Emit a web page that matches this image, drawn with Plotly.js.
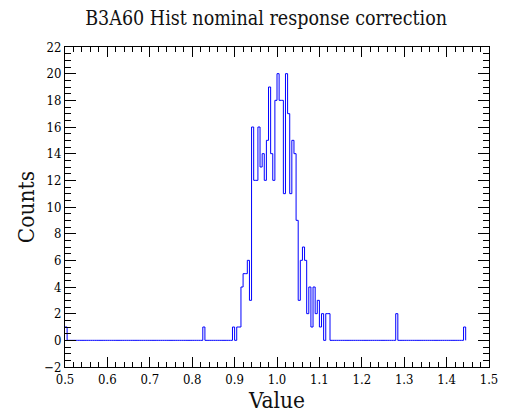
<!DOCTYPE html>
<html>
<head>
<meta charset="utf-8">
<script src="https://cdn.plot.ly/plotly-3.0.1.min.js"></script>
<style>
html,body{margin:0;padding:0;background:#fff;}
#chart{width:508px;height:414px;}
</style>
</head>
<body>
<div id="chart"></div>
<script>
// Histogram binning (axis definition)
const binMin = 0.5;
const binWidth = 0.005;

// Counts per bin (bins 0 .. 188, i.e. 0.500 .. 1.445)
const counts = [
  1, 0, 0, 0, 0, 0, 0, 0, 0, 0,   // 0.500 - 0.550
  0, 0, 0, 0, 0, 0, 0, 0, 0, 0,   // 0.550 - 0.600
  0, 0, 0, 0, 0, 0, 0, 0, 0, 0,   // 0.600 - 0.650
  0, 0, 0, 0, 0, 0, 0, 0, 0, 0,   // 0.650 - 0.700
  0, 0, 0, 0, 0, 0, 0, 0, 0, 0,   // 0.700 - 0.750
  0, 0, 0, 0, 0, 0, 0, 0, 0, 0,   // 0.750 - 0.800
  0, 0, 0, 0, 0, 1, 0, 0, 0, 0,   // 0.800 - 0.850
  0, 0, 0, 0, 0, 0, 0, 0, 0, 1,   // 0.850 - 0.900
  0, 1, 1, 4, 5, 5, 6, 3, 16, 12, // 0.900 - 0.950
  12, 16, 13, 14, 12, 15, 19, 14, 12, 18, // 0.950 - 1.000
  20, 18, 18, 11, 20, 17, 11, 15, 14, 9,  // 1.000 - 1.050
  3, 6, 7, 6, 2, 4, 1, 4, 2, 3,   // 1.050 - 1.100
  1, 2, 0, 2, 2, 0, 0, 0, 0, 0,   // 1.100 - 1.150
  0, 0, 0, 0, 0, 0, 0, 0, 0, 0,   // 1.150 - 1.200
  0, 0, 0, 0, 0, 0, 0, 0, 0, 0,   // 1.200 - 1.250
  0, 0, 0, 0, 0, 0, 2, 0, 0, 0,   // 1.250 - 1.300
  0, 0, 0, 0, 0, 0, 0, 0, 0, 0,   // 1.300 - 1.350
  0, 0, 0, 0, 0, 0, 0, 0, 0, 0,   // 1.350 - 1.400
  0, 0, 0, 0, 0, 0, 0, 0, 1       // 1.400 - 1.445
];

const xTickVals = [0.5, 0.6, 0.7, 0.8, 0.9, 1.0, 1.1, 1.2, 1.3, 1.4, 1.5];
const xTickText = ["0.5", "0.6", "0.7", "0.8", "0.9", "1.0", "1.1", "1.2", "1.3", "1.4", "1.5"];
const yTickVals = [-2, 0, 2, 4, 6, 8, 10, 12, 14, 16, 18, 20, 22];

// Step outline: each bin's left edge with its count, then closing edge at 0
const xs = [], ys = [];
for (let i = 0; i < counts.length; i++) {
  xs.push(binMin + i * binWidth);
  ys.push(counts[i]);
}
xs.push(binMin + counts.length * binWidth);
ys.push(0);

const font = "DejaVu Serif Condensed, DejaVu Serif, serif";

const trace = {
  type: "scatter",
  mode: "lines",
  x: xs,
  y: ys,
  line: {shape: "hv", color: "#0000ff", width: 1},
  hoverinfo: "x+y"
};

const layout = {
  width: 508,
  height: 414,
  margin: {l: 65, r: 19, t: 47, b: 47},
  paper_bgcolor: "#ffffff",
  plot_bgcolor: "#ffffff",
  showlegend: false,
  font: {family: font, color: "#000000", size: 13},
  title: {
    text: "B3A60 Hist nominal response correction",
    font: {family: font, size: 19.5, color: "#111111"},
    x: 241 / 508, xanchor: "center", xref: "paper",
    y: 1 - 18 / 414, yanchor: "middle", yref: "container"
  },
  xaxis: {
    range: [0.5, 1.5],
    tickvals: xTickVals,
    ticktext: xTickText,
    ticks: "inside",
    ticklen: 10,
    tickcolor: "#000000",
    tickwidth: 1,
    showline: true,
    linecolor: "#000000",
    linewidth: 1,
    mirror: "allticks",
    showgrid: false,
    zeroline: false,
    tickfont: {family: font, size: 13, color: "#000000"},
    minor: {dtick: 0.02, tick0: 0.5, ticks: "inside", ticklen: 5, tickcolor: "#000000", showgrid: false},
    title: {text: "Value", font: {family: font, size: 22.5, color: "#111111"}, standoff: 3}
  },
  yaxis: {
    range: [-2, 22],
    tickvals: yTickVals,
    ticks: "inside",
    ticklen: 11,
    tickcolor: "#000000",
    tickwidth: 1,
    showline: true,
    linecolor: "#000000",
    linewidth: 1,
    mirror: "allticks",
    showgrid: false,
    zeroline: false,
    tickfont: {family: font, size: 13, color: "#000000"},
    minor: {dtick: 0.5, tick0: 0, ticks: "inside", ticklen: 6, tickcolor: "#000000", showgrid: false},
    title: {text: "Counts", font: {family: font, size: 22.5, color: "#111111"}, standoff: 3}
  }
};

Plotly.newPlot("chart", [trace], layout, {displayModeBar: false, staticPlot: true});
</script>
</body>
</html>
